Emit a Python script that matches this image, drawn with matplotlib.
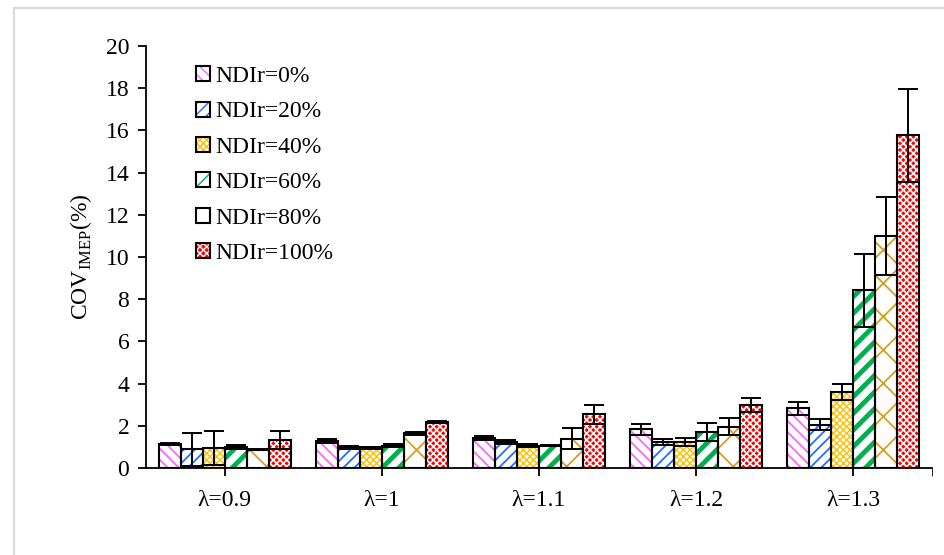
import matplotlib.pyplot as plt
import numpy as np
from matplotlib.patches import Patch
from matplotlib.legend_handler import HandlerTuple
from matplotlib.lines import Line2D

plt.rcParams['font.family'] = ['Liberation Serif', 'DejaVu Serif']
plt.rcParams['mathtext.fontset'] = 'custom'
plt.rcParams['mathtext.rm'] = 'Liberation Serif'

# data
categories = ['λ=0.9', 'λ=1', 'λ=1.1', 'λ=1.2', 'λ=1.3']
series = ['NDIr=0%', 'NDIr=20%', 'NDIr=40%', 'NDIr=60%', 'NDIr=80%', 'NDIr=100%']
values = [
    [1.14, 1.29, 1.42, 1.83, 2.82],
    [0.88, 0.98, 1.25, 1.23, 2.05],
    [0.93, 0.95, 1.06, 1.23, 3.58],
    [0.98, 1.06, 1.06, 1.71, 8.42],
    [0.87, 1.64, 1.39, 1.96, 11.0],
    [1.34, 2.18, 2.54, 2.97, 15.76],
]
errors = [
    [0.05, 0.10, 0.08, 0.25, 0.29],
    [0.78, 0.07, 0.10, 0.16, 0.27],
    [0.80, 0.04, 0.08, 0.20, 0.38],
    [0.10, 0.07, 0.03, 0.42, 1.72],
    [0.02, 0.06, 0.50, 0.40, 1.83],
    [0.43, 0.07, 0.44, 0.33, 2.20],
]

# style per series: face colour, hatch colour, hatch, hatch line width
faces = ['white', 'white', 'white', 'white', 'white', '#FF0000']
hcolors = ['#FF66FF', '#1F6FFF', '#FFC000', '#00B050', '#D4A020', 'white']
hatches = ['\\\\\\', '///', 'xxxxx', '//', 'x', 'xxxxx']
hlws = [1.3, 1.3, 1.0, 3.5, 1.3, 1.2]

fig = plt.figure(figsize=(9.45, 5.55), dpi=100)
ax = fig.add_axes([146 / 945, 1 - 468 / 555, (932 - 146) / 945, (468 - 46) / 555])

x = np.arange(len(categories))
w = 0.14
handles = []
for i in range(len(series)):
    pos = x + (i - 2.5) * w
    with plt.rc_context({'hatch.linewidth': hlws[i]}):
        ax.bar(pos, values[i], w, color=faces[i], edgecolor=hcolors[i],
               hatch=hatches[i], linewidth=0, zorder=2)
    ax.bar(pos, values[i], w, fill=False, edgecolor='black', linewidth=1.5,
           yerr=errors[i], capsize=7,
           error_kw=dict(elinewidth=1.4, capthick=1.4, ecolor='black'), zorder=3)
    with plt.rc_context({'hatch.linewidth': hlws[i]}):
        hp = Patch(facecolor=faces[i], edgecolor=hcolors[i], hatch=hatches[i], linewidth=0)
    op = Patch(fill=False, edgecolor='black', linewidth=1.5)
    handles.append((hp, op))

ax.set_xlim(-0.5, 4.5)
ax.set_ylim(0, 20)
ax.set_yticks(np.arange(0, 21, 2))
ax.set_xticks(x)
ax.set_xticklabels(categories)
ax.set_xticks([4.5], minor=True)
ax.tick_params(axis='both', labelsize=17, width=1.3, color='black')
ax.tick_params(axis='y', length=6, pad=6)
ax.tick_params(axis='x', which='both', length=6, pad=10)
for s in ['top', 'right']:
    ax.spines[s].set_visible(False)
for s in ['left', 'bottom']:
    ax.spines[s].set_linewidth(1.3)

ax.set_ylabel('COV$_{\\mathregular{IMEP}}$(%)', fontsize=17, labelpad=8)

leg = ax.legend(handles, series, handler_map={tuple: HandlerTuple(ndivide=1)},
                loc='upper left', bbox_to_anchor=(0.051, 0.975), frameon=False,
                fontsize=17, handlelength=0.6, handleheight=0.6,
                handletextpad=0.25, labelspacing=0.61, borderaxespad=0)

# light grey chart-area border
fig.add_artist(Line2D([14 / 945, 14 / 945], [0, 1 - 8 / 555], transform=fig.transFigure,
                      color='#D9D9D9', linewidth=1.5))
fig.add_artist(Line2D([14 / 945, 1], [1 - 8 / 555, 1 - 8 / 555], transform=fig.transFigure,
                      color='#D9D9D9', linewidth=1.5))

plt.savefig('out.png', dpi=100)
